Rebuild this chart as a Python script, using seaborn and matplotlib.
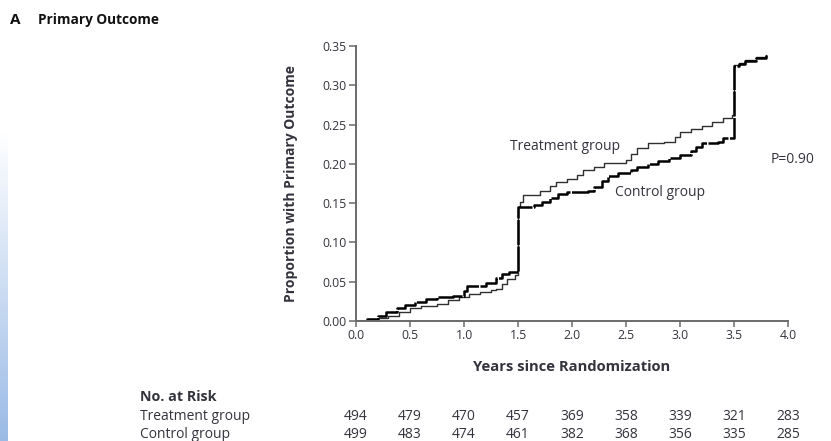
import numpy as np
import pandas as pd
import matplotlib
matplotlib.use("Agg")
import matplotlib.pyplot as plt
import matplotlib.transforms as mtransforms
import seaborn as sns

# ---- data ----
treat_x = [0.0, 0.1, 0.2, 0.3, 0.4, 0.5, 0.6, 0.75, 0.85, 0.95, 1.05, 1.15, 1.25, 1.3, 1.35,
           1.4, 1.47, 1.5, 1.52, 1.55, 1.7, 1.8, 1.85, 1.95, 2.05, 2.1, 2.2, 2.3, 2.5, 2.55,
           2.6, 2.7, 2.85, 2.95, 3.0, 3.1, 3.2, 3.3, 3.4, 3.48, 3.5, 3.55, 3.6, 3.7, 3.8]
treat_y = [0.0, 0.002, 0.004, 0.007, 0.012, 0.016, 0.019, 0.022, 0.027, 0.031, 0.034, 0.037,
           0.039, 0.041, 0.047, 0.053, 0.058, 0.145, 0.152, 0.160, 0.165, 0.172, 0.177, 0.181,
           0.186, 0.192, 0.196, 0.201, 0.205, 0.212, 0.220, 0.226, 0.228, 0.234, 0.240, 0.244,
           0.248, 0.253, 0.258, 0.262, 0.326, 0.328, 0.332, 0.336, 0.339]
ctrl_x = [0.0, 0.1, 0.2, 0.28, 0.38, 0.45, 0.55, 0.65, 0.75, 0.9, 1.0, 1.03, 1.1, 1.2, 1.3,
          1.35, 1.42, 1.5, 1.65, 1.72, 1.8, 1.87, 1.95, 2.15, 2.2, 2.28, 2.33, 2.43, 2.55,
          2.6, 2.7, 2.8, 2.9, 3.0, 3.1, 3.15, 3.2, 3.35, 3.4, 3.5, 3.55, 3.6, 3.7, 3.8]
ctrl_y = [0.0, 0.003, 0.007, 0.012, 0.016, 0.020, 0.024, 0.028, 0.030, 0.032, 0.038, 0.044,
          0.045, 0.049, 0.055, 0.060, 0.063, 0.145, 0.148, 0.152, 0.157, 0.162, 0.164, 0.166,
          0.171, 0.178, 0.185, 0.188, 0.192, 0.196, 0.200, 0.203, 0.207, 0.211, 0.216, 0.222,
          0.226, 0.228, 0.233, 0.325, 0.327, 0.331, 0.335, 0.338]

years = [0.0, 0.5, 1.0, 1.5, 2.0, 2.5, 3.0, 3.5, 4.0]
year_labels = ["0.0", "0.5", "1.0", "1.5", "2.0", "2.5", "3.0", "3.5", "4.0"]
yticks = [0.00, 0.05, 0.10, 0.15, 0.20, 0.25, 0.30, 0.35]
ytick_labels = ["0.00", "0.05", "0.10", "0.15", "0.20", "0.25", "0.30", "0.35"]
risk_treat = [494, 479, 470, 457, 369, 358, 339, 321, 283]
risk_ctrl = [499, 483, 474, 461, 382, 368, 356, 335, 285]

# ---- styling ----
sns.set_theme(style="white")
plt.rcParams['font.family'] = ['Open Sans', 'DejaVu Sans']
TXT = "#33333d"

W, H = 831, 441
fig = plt.figure(figsize=(W / 100, H / 100), dpi=100)
fig.patch.set_facecolor("white")

# subtle blue screen-edge gradient at left
gax = fig.add_axes([0, 0, 8 / W, 1 - 130 / H])
grad = np.linspace(0, 1, 100).reshape(-1, 1)
gax.imshow(grad, aspect="auto", cmap=matplotlib.colors.LinearSegmentedColormap.from_list(
    "g", ["#ffffff", "#9bbbe6"]), origin="upper", extent=[0, 1, 0, 1])
gax.axis("off")

L, R, T, B = 356, 788, 46, 321
ax = fig.add_axes([L / W, 1 - B / H, (R - L) / W, (B - T) / H])

df_t = pd.DataFrame({"x": treat_x, "y": treat_y})
df_c = pd.DataFrame({"x": ctrl_x, "y": ctrl_y})
sns.lineplot(data=df_t, x="x", y="y", ax=ax, drawstyle="steps-post",
             color="#303030", lw=1.0, estimator=None, sort=False)
sns.lineplot(data=df_c, x="x", y="y", ax=ax, drawstyle="steps-post",
             color="black", lw=1.8, estimator=None, sort=False)
ax.lines[-1].set_linestyle((0, (10, 0.6)))

ax.set_xlim(0, 4.0)
ax.set_ylim(0, 0.35)
ax.set_xticks(years)
ax.set_xticklabels(year_labels)
ax.set_yticks(yticks)
ax.set_yticklabels(ytick_labels)
for s in ["top", "right"]:
    ax.spines[s].set_visible(False)
for s in ["left", "bottom"]:
    ax.spines[s].set_color("#6a6a6a")
    ax.spines[s].set_linewidth(1.4)
ax.tick_params(axis="both", direction="out", length=5, width=1.1, color="#6a6a6a",
               labelsize=8.8, labelcolor=TXT, pad=1.5, bottom=True, left=True)
ax.tick_params(axis="x", length=4.5, pad=1)
ax.set_facecolor("none")
ax.set_xlabel("Years since Randomization", fontsize=10.6, fontweight="bold", color=TXT, va="center")
ax.xaxis.set_label_coords(0.5, (B - 367) / (B - T))
ax.set_ylabel("Proportion with Primary Outcome", fontsize=10.0, fontweight="bold", color=TXT, va="center")
ax.yaxis.set_label_coords((291 - L) / (R - L), 0.5)

ax.text(1.935, 0.2226, "Treatment group", fontsize=10.0, color=TXT, ha="center", va="center")
ax.text(2.815, 0.163, "Control group", fontsize=10.0, color=TXT, ha="center", va="center")
ax.text(4.04, 0.205, "P=0.90", fontsize=10.0, color=TXT, ha="center", va="center")

# title
fig.text(10 / W, 1 - 20 / H, "A", fontsize=11, fontweight="bold", color="#111111", va="center")
fig.text(38 / W, 1 - 20 / H, "Primary Outcome", fontsize=9.8, fontweight="bold", color="#111111", va="center")

# number at risk table
fig.text(140 / W, 1 - 397 / H, "No. at Risk", fontsize=10.3, fontweight="bold", color=TXT, va="center")
fig.text(140 / W, 1 - 417 / H, "Treatment group", fontsize=10.0, color=TXT, va="center")
fig.text(140 / W, 1 - 435 / H, "Control group", fontsize=10.0, color=TXT, va="center")
trans = mtransforms.blended_transform_factory(ax.transData, fig.transFigure)
for xv, a, b in zip(years, risk_treat, risk_ctrl):
    ax.text(xv, 1 - 417 / H, str(a), transform=trans, fontsize=10.0, color=TXT,
            ha="center", va="center", clip_on=False)
    ax.text(xv, 1 - 435 / H, str(b), transform=trans, fontsize=10.0, color=TXT,
            ha="center", va="center", clip_on=False)

fig.savefig("out.png", dpi=100)
